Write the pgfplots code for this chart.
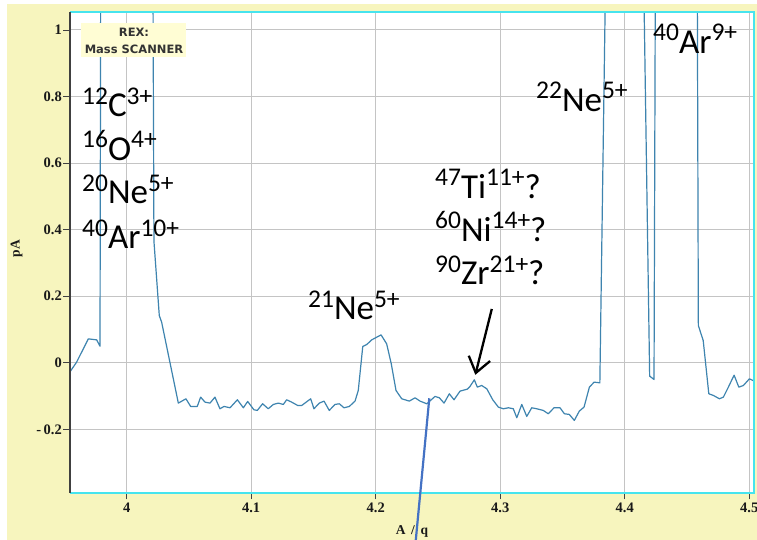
\documentclass[border=0pt]{standalone}
\usepackage{pgfplots}
\pgfplotsset{compat=1.18}
\usetikzlibrary{arrows.meta,calc}
\usepackage{fontspec}
\setmainfont{Carlito}
\newfontfamily\tickfont{Liberation Serif}
\newfontfamily\rexfont{DejaVu Sans}
\definecolor{bgyellow}{RGB}{247,245,190}
\definecolor{rexbox}{RGB}{255,253,212}
\definecolor{cyanb}{RGB}{70,228,238}
\definecolor{axisdark}{RGB}{64,64,64}
\definecolor{gridgray}{RGB}{196,196,196}
\definecolor{sigblue}{RGB}{62,132,175}
\definecolor{pointer}{RGB}{68,114,196}
\pgfdeclarelayer{background}
\pgfsetlayers{background,main}
\newcommand{\sps}[1]{\raisebox{12.8bp}{\fontsize{25.5bp}{25.5bp}\selectfont #1}}
\newcommand{\iso}[3]{\sps{#1}#2\sps{#3}}
\begin{document}
\begin{tikzpicture}
\begin{axis}[
  name=ax,
  width=684bp, height=480.7bp, scale only axis,
  xmin=3.9545, xmax=4.5038, ymin=-0.391, ymax=1.053,
  axis background/.style={fill=white},
  xtick={4,4.1,4.2,4.3,4.4,4.5},
  xticklabels={4,4.1,4.2,4.3,4.4,4.5},
  ytick={-0.2,0,0.2,0.4,0.6,0.8,1},
  yticklabels={-\,0.2,0,0.2,0.4,0.6,0.8,1},
  grid=major, major grid style={draw=gridgray, line width=0.9bp},
  tick align=outside, xtick pos=bottom, ytick pos=left,
  major tick length=6.5bp,
  tick style={draw=axisdark, line width=0.8bp},
  axis line style={draw=none},
  clip mode=individual,
  ticklabel style={font=\tickfont\bfseries\fontsize{14.5bp}{16bp}\selectfont, text=black!90},
  yticklabel style={inner xsep=1.5bp},
  xlabel={A \,/\, q}, ylabel={pA},
  every axis x label/.style={at={(axis description cs:0.5,-0.0805)}, anchor=center,
     font=\tickfont\bfseries\fontsize{13.5bp}{15bp}\selectfont, text=black!90},
  every axis y label/.style={at={(axis description cs:-0.078,0.508)}, anchor=center, rotate=90,
     font=\tickfont\bfseries\fontsize{13.5bp}{15bp}\selectfont, text=black!90},
]
\addplot[sigblue, line width=1.2bp, line join=round] coordinates {
(3.9545,-0.027) (3.9598,0.002) (3.9692,0.072) (3.9759,0.069) (3.9786,0.050)
(3.9791,1.08) (4.0212,1.08) (4.0219,0.366) (4.0262,0.142) (4.0281,0.122)
(4.0415,-0.121) (4.0476,-0.108) (4.0514,-0.131) (4.0567,-0.131) (4.0594,-0.103)
(4.0629,-0.118) (4.0669,-0.121) (4.0709,-0.103) (4.0749,-0.138) (4.0782,-0.131)
(4.0830,-0.135) (4.0889,-0.111) (4.0937,-0.135) (4.0972,-0.116) (4.1022,-0.141)
(4.1049,-0.143) (4.1092,-0.123) (4.1137,-0.138) (4.1178,-0.125) (4.1218,-0.121)
(4.1258,-0.125) (4.1285,-0.111) (4.1325,-0.118) (4.1373,-0.128) (4.1406,-0.128)
(4.1478,-0.108) (4.1504,-0.138) (4.1547,-0.121) (4.1585,-0.115) (4.1627,-0.143)
(4.1673,-0.125) (4.1708,-0.123) (4.1745,-0.135) (4.1788,-0.131) (4.1834,-0.115)
(4.1860,-0.083) (4.1896,0.049) (4.1928,0.055) (4.1968,0.069) (4.2043,0.084)
(4.2088,0.057) (4.2125,-0.003) (4.2163,-0.083) (4.2209,-0.108) (4.2270,-0.115)
(4.2316,-0.105) (4.2356,-0.115) (4.2410,-0.123) (4.2476,-0.101) (4.2511,-0.105)
(4.2549,-0.121) (4.2591,-0.093) (4.2629,-0.111) (4.2677,-0.085) (4.2736,-0.079)
(4.2757,-0.071) (4.2792,-0.051) (4.2816,-0.073) (4.2851,-0.068) (4.2892,-0.078)
(4.2940,-0.111) (4.2985,-0.133) (4.3025,-0.138) (4.3065,-0.135) (4.3105,-0.138)
(4.3133,-0.165) (4.3173,-0.125) (4.3213,-0.161) (4.3253,-0.135) (4.3293,-0.138)
(4.3346,-0.143) (4.3386,-0.153) (4.3432,-0.135) (4.3480,-0.135) (4.3515,-0.153)
(4.3555,-0.155) (4.3595,-0.173) (4.3635,-0.145) (4.3673,-0.133) (4.3716,-0.073)
(4.3754,-0.058) (4.3800,-0.060) (4.3843,1.08) (4.4155,1.08) (4.4200,-0.040)
(4.4235,-0.050) (4.4245,1.08) (4.4583,1.08) (4.4591,0.112) (4.4630,0.067)
(4.4675,-0.093) (4.4712,-0.098) (4.4760,-0.108) (4.4792,-0.103) (4.4832,-0.073)
(4.4878,-0.037) (4.4916,-0.073) (4.4953,-0.068) (4.5001,-0.048) (4.5040,-0.055)
};
\draw[cyanb, line width=1.6bp] (rel axis cs:0,0) -- (rel axis cs:1,0) -- (rel axis cs:1,1) -- (rel axis cs:0,1);
\draw[axisdark, line width=1.4bp] (rel axis cs:0,0) -- (rel axis cs:0,1);
\draw[black, line width=2.3bp, -{Straight Barb[length=15bp, width=22bp]}] (axis cs:4.2932,0.1617) -- (axis cs:4.2800,-0.036);
\end{axis}
\begin{scope}[shift={($(ax.south west)-(70bp,47bp)$)}, x=1bp, y=1bp]
\begin{pgfonlayer}{background}
\fill[white] (0,0) rectangle (757,540);
\fill[bgyellow] (7,0) rectangle (757,536);
\end{pgfonlayer}
% REX box
\fill[rexbox] (80.7,483.3) rectangle (186,516.7);
\node[anchor=base, inner sep=0, font=\rexfont\bfseries\fontsize{11.5bp}{13bp}\selectfont, text=black!80] at (134,503) {REX:};
\node[anchor=base, inner sep=0, font=\rexfont\bfseries\fontsize{11.5bp}{13bp}\selectfont, text=black!80] at (134,486) {Mass SCANNER};
% pointer line
\draw[pointer, line width=2.2bp] (429.3,141.7) -- (415.8,0);
% isotope labels
\begin{scope}[every node/.style={anchor=base west, inner sep=0, font=\fontsize{35bp}{35bp}\selectfont}]
\node at (82,423) {\iso{12}{C}{3+}};
\node at (82,379.5) {\iso{16}{O}{4+}};
\node at (82,336) {\iso{20}{Ne}{5+}};
\node at (82,291) {\iso{40}{Ar}{10+}};
\node at (308,220) {\iso{21}{Ne}{5+}};
\node at (435,341.5) {\iso{47}{Ti}{11+}?};
\node at (435,298.3) {\iso{60}{Ni}{14+}?};
\node at (435,255) {\iso{90}{Zr}{21+}?};
\node at (536,428.3) {\iso{22}{Ne}{5+}};
\node at (653,486.7) {\iso{40}{Ar}{9+}};
\end{scope}
\pgfresetboundingbox
\path[use as bounding box] (0,0) rectangle (757,540);
\end{scope}
\end{tikzpicture}
\end{document}
